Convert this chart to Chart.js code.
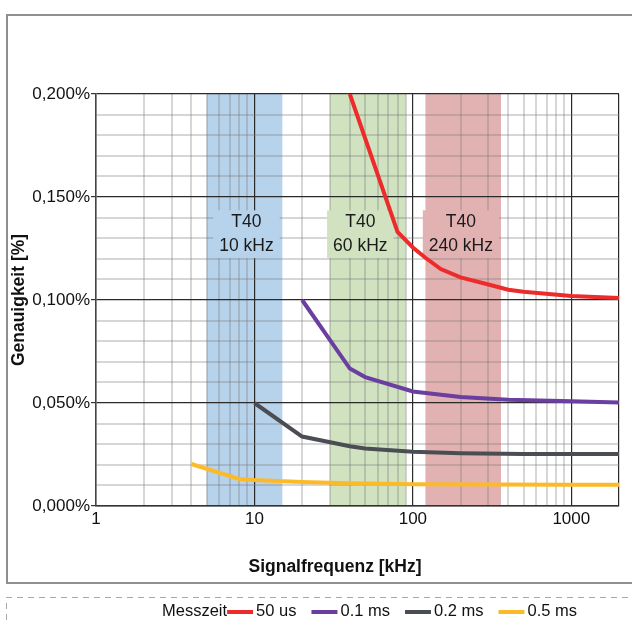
<!DOCTYPE html>
<html><head><meta charset="utf-8">
<script src="https://cdn.jsdelivr.net/npm/chart.js@4.4.1/dist/chart.umd.min.js"></script>
<style>html,body{margin:0;padding:0;background:#fff}#wrap{width:632px;height:622px}</style>
</head><body><div id="wrap"><canvas id="c" width="632" height="622"></canvas></div>
<script>
// ---- data ----
const seriesNames = ['50 us', '0.1 ms', '0.2 ms', '0.5 ms'];
const seriesColors = ['#ee2b2b', '#6a3f9f', '#4a4e53', '#fdba28'];

const freq50us = [40, 80, 100, 120, 150, 200, 300, 400, 500, 1000, 2000];
const acc50us  = [0.200, 0.133, 0.1255, 0.1205, 0.115, 0.111, 0.1075, 0.105, 0.104, 0.102, 0.101];

const freq01ms = [20, 40, 50, 100, 200, 400, 1000, 2000];
const acc01ms  = [0.100, 0.0667, 0.0626, 0.0556, 0.0529, 0.0516, 0.0508, 0.0502];

const freq02ms = [10, 20, 40, 50, 100, 200, 500, 1000, 2000];
const acc02ms  = [0.050, 0.0337, 0.0290, 0.0279, 0.0263, 0.0256, 0.0253, 0.0252, 0.0252];

const freq05ms = [4, 8, 10, 20, 40, 100, 1000, 2000];
const acc05ms  = [0.0204, 0.0131, 0.0126, 0.0116, 0.0111, 0.0106, 0.0103, 0.0103];

const bandStart  = [5, 30, 120];
const bandEnd    = [15, 90, 360];
const bandLabelAt = [8.9, 46.6, 201];
const bandLines  = [['T40', '10 kHz'], ['T40', '60 kHz'], ['T40', '240 kHz']];
const bandColors = ['#b7d3ec', '#d0e2c0', '#e2b2b2'];
const bandLineValues = [0.1377, 0.1262];

const xTickValues = [1, 10, 100, 1000];
const xTickLabels = ['1', '10', '100', '1000'];
const xMinorMultipliers = [1, 2, 3, 4, 5, 6, 7, 8, 9];
const yMajorValues = [0, 0.05, 0.10, 0.15, 0.20];
const yTickLabels = ['0,000%', '0,050%', '0,100%', '0,150%', '0,200%'];
const yMinorStep = 0.01;

const xTitle = 'Signalfrequenz [kHz]';
const yTitle = 'Genauigkeit [%]';
const legendTitle = 'Messzeit';

// ---- helpers ----
const FONT = '"Liberation Sans", Arial, Helvetica, sans-serif';
Chart.defaults.font.family = FONT;
const xMax = 2000;
const xGridValues = [];
xTickValues.forEach(d => xMinorMultipliers.forEach(m => { if (d * m <= xMax) xGridValues.push(d * m); }));
const yGridValues = [];
for (let i = 0; i <= Math.round(0.2 / yMinorStep); i++) yGridValues.push(+(i * yMinorStep).toFixed(4));
const isMajorX = v => xTickValues.includes(v) || v === xMax;
const yMajorIndex = v => yMajorValues.findIndex(m => Math.abs(m - v) < 1e-9);

const mk = (f, a) => f.map((x, i) => ({x: x, y: a[i]}));
const seriesData = [mk(freq50us, acc50us), mk(freq01ms, acc01ms), mk(freq02ms, acc02ms), mk(freq05ms, acc05ms)];

const bandsPlugin = {
  id: 'bands',
  beforeDraw(chart) {
    const {ctx, chartArea: a, scales: {x}} = chart;
    ctx.save();
    // outer frame
    ctx.strokeStyle = '#8f8f8f'; ctx.lineWidth = 2;
    ctx.strokeRect(7, 15, 640, 568);
    ctx.strokeStyle = '#a8a8a8'; ctx.lineWidth = 1; ctx.setLineDash([6, 5]);
    ctx.beginPath(); ctx.moveTo(6, 597.5); ctx.lineTo(632, 597.5); ctx.stroke();
    ctx.beginPath(); ctx.moveTo(6.5, 603); ctx.lineTo(6.5, 622); ctx.stroke();
    ctx.setLineDash([]);
    bandStart.forEach((s, i) => {
      const x0 = x.getPixelForValue(s), x1 = x.getPixelForValue(bandEnd[i]);
      ctx.fillStyle = bandColors[i];
      ctx.fillRect(x0, a.top, x1 - x0, a.bottom - a.top);
    });
    ctx.restore();
  },
  beforeDatasetsDraw(chart) {
    const {ctx, scales: {x, y}} = chart;
    ctx.save();
    ctx.font = '17.5px ' + FONT;
    ctx.textAlign = 'center'; ctx.textBaseline = 'middle';
    bandLines.forEach((lines, i) => {
      const cx = x.getPixelForValue(bandLabelAt[i]);
      const ys = bandLineValues.map(v => y.getPixelForValue(v));
      const w = Math.max(...lines.map(t => ctx.measureText(t).width)) + 12;
      ctx.fillStyle = bandColors[i];
      ctx.fillRect(cx - w / 2, ys[0] - 12, w, ys[1] - ys[0] + 24);
      ctx.fillStyle = '#1a1a1a';
      lines.forEach((t, j) => ctx.fillText(t, cx, ys[j]));
    });
    ctx.restore();
  },
  afterDraw(chart) {
    const {ctx} = chart;
    ctx.save();
    // x axis title
    ctx.font = 'bold 17.5px ' + FONT;
    ctx.fillStyle = '#111'; ctx.textAlign = 'center'; ctx.textBaseline = 'middle';
    ctx.fillText(xTitle, 335, 567);
    // legend
    ctx.font = '16.5px ' + FONT;
    ctx.textAlign = 'left';
    let px = 162;
    const ly = 611;
    ctx.fillText(legendTitle, px, ly);
    px += ctx.measureText(legendTitle).width;
    chart.data.datasets.forEach((ds, i) => {
      if (i > 0) px += 15;
      ctx.strokeStyle = ds.borderColor; ctx.lineWidth = 4;
      ctx.beginPath(); ctx.moveTo(px, ly + 1); ctx.lineTo(px + 26, ly + 1); ctx.stroke();
      px += 29;
      ctx.fillStyle = '#111';
      ctx.fillText(ds.label, px, ly);
      px += ctx.measureText(ds.label).width;
    });
    ctx.restore();
  }
};

new Chart(document.getElementById('c'), {
  type: 'line',
  data: {
    datasets: seriesData.map((d, i) => ({
      label: seriesNames[i], data: d, borderColor: seriesColors[i], backgroundColor: seriesColors[i],
      borderWidth: 4, pointRadius: 0, tension: 0, fill: false
    }))
  },
  options: {
    responsive: false, animation: false, devicePixelRatio: 1,
    layout: {padding: {top: 94, right: 13, left: 0, bottom: 0}},
    plugins: {legend: {display: false}, title: {display: false}, tooltip: {enabled: false}},
    scales: {
      x: {
        type: 'logarithmic', min: 1, max: xMax,
        afterBuildTicks: s => { s.ticks = xGridValues.map(v => ({value: v})); },
        afterFit: s => { s.height = 116; },
        ticks: {
          autoSkip: false, maxRotation: 0, padding: 3, color: '#111', font: {size: 17},
          callback: v => { const i = xTickValues.indexOf(v); return i >= 0 ? xTickLabels[i] : ''; }
        },
        grid: {
          drawTicks: false,
          color: c => isMajorX(c.tick.value) ? '#2a2a2a' : 'rgba(120,120,120,0.3)',
          lineWidth: c => isMajorX(c.tick.value) ? 1.2 : 2
        },
        border: {color: '#333', width: 1.5},
        title: {display: false}
      },
      y: {
        type: 'linear', min: 0, max: 0.2,
        afterBuildTicks: s => { s.ticks = yGridValues.map(v => ({value: v})); },
        afterFit: s => { s.width = 96; },
        ticks: {
          autoSkip: false, padding: 1, color: '#111', font: {size: 17},
          callback: v => { const i = yMajorIndex(v); return i >= 0 ? yTickLabels[i] : ''; }
        },
        grid: {
          tickLength: 5,
          color: c => yMajorIndex(c.tick.value) >= 0 ? '#2a2a2a' : 'rgba(120,120,120,0.3)',
          tickColor: c => yMajorIndex(c.tick.value) >= 0 ? '#333' : 'rgba(0,0,0,0)',
          lineWidth: c => yMajorIndex(c.tick.value) >= 0 ? 1.2 : 2,
          tickWidth: 1.2
        },
        border: {color: '#444', width: 1.5},
        title: {display: true, text: yTitle, color: '#111', font: {size: 17.5, weight: 'bold'}, padding: {top: 9, bottom: 0}}
      }
    }
  },
  plugins: [bandsPlugin]
});
</script>
</body></html>
